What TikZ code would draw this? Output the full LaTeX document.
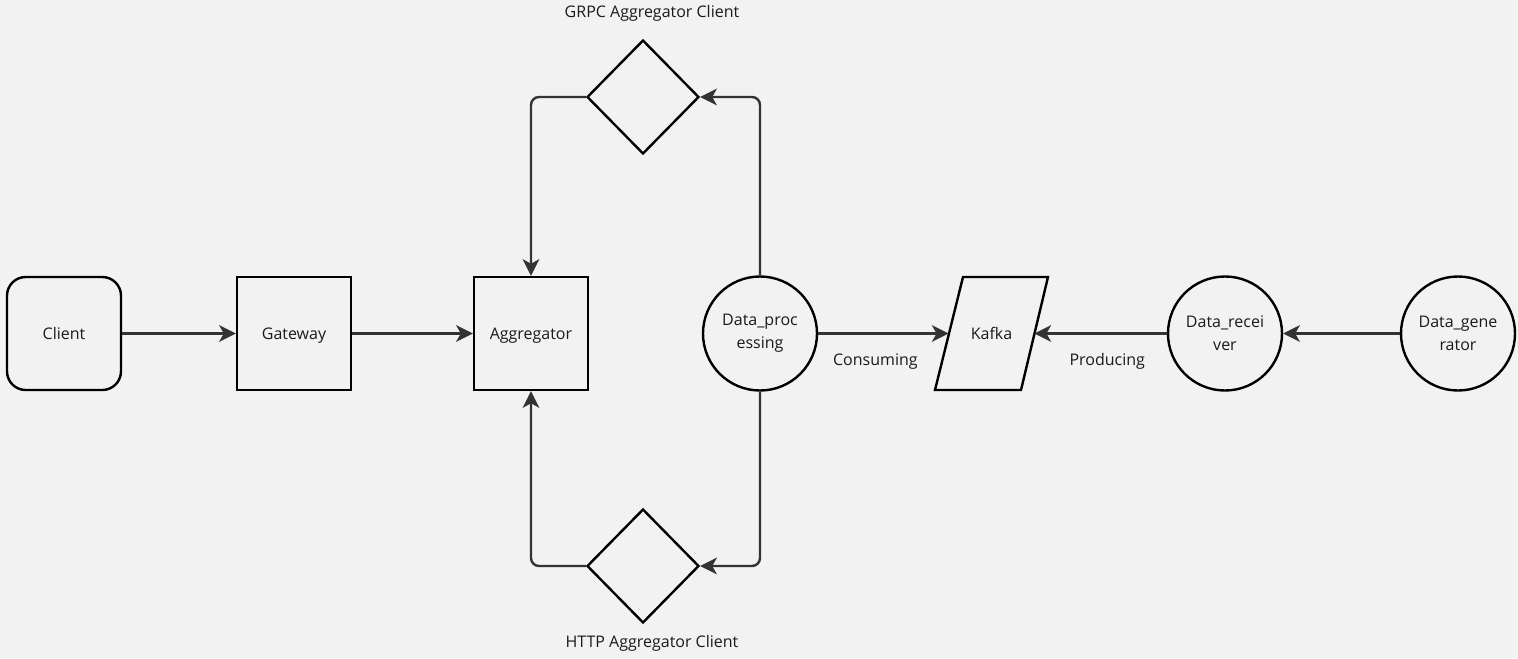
\documentclass[tikz,border=0pt]{standalone}
\usepackage{fontspec}
\setmainfont{Open Sans}
\usetikzlibrary{arrows.meta,shapes.geometric}
\definecolor{bg}{HTML}{F2F2F2}
\definecolor{edge}{HTML}{333333}
\definecolor{txt}{HTML}{1A1A1A}
\begin{document}
\begin{tikzpicture}[x=0.75pt,y=-0.75pt,
  every node/.style={font=\fontsize{12}{17}\selectfont,text=txt},
  box/.style={draw=black,line width=1.8pt,minimum width=85.5pt,minimum height=84.75pt,inner sep=0pt,text height=8.6pt,text depth=0pt},
  rbox/.style={box,rounded corners=14pt},
  circ/.style={draw=black,line width=1.8pt,circle,minimum size=85.5pt,inner sep=0pt,align=center},
  dia/.style={draw=black,line width=1.8pt,diamond,aspect=1,minimum width=84pt,minimum height=85.5pt,inner sep=0pt},
  conn/.style={draw=edge,line width=1.8pt,-{Stealth[length=12.5pt,width=12.5pt,inset=3.5pt]},rounded corners=6pt},
  lbl/.style={inner sep=0pt}
]
\fill[bg] (0,0) rectangle (1518,658);
\useasboundingbox (0,0) rectangle (1518,658);

\node[rbox] (client) at (64,333.5) {Client};
\node[box] (gateway) at (294,333.5) {Gateway};
\node[box] (aggr) at (531,333.5) {Aggregator};
\node[circ] (proc) at (760,333.5) {Data\_proc\\essing};
\draw[black,line width=1.8pt,line join=miter] (963,277) -- (1048,277) -- (1021,390) -- (935,390) -- cycle;
\node[minimum width=64pt,minimum height=84.75pt,inner sep=0pt,text height=8.6pt,text depth=0pt] (kafka) at (991.5,333.5) {Kafka};
\node[circ] (recv) at (1225,333.5) {Data\_recei\\ver};
\node[circ] (gen) at (1458,333.5) {Data\_gene\\rator};
\node[dia] (grpc) at (643,97) {};
\node[dia] (http) at (643,566) {};
\node[lbl] (grpcl) at (652,13) {GRPC Aggregator Client};
\node[lbl] (httpl) at (652,643) {HTTP Aggregator Client};

\draw[conn] (client) -- (gateway);
\draw[conn] (gateway) -- (aggr);
\draw[conn] (proc) -- node[below=14pt,lbl,xshift=-6pt] (cons) {Consuming} (kafka.west);
\draw[conn] (recv) -- node[below=14pt,lbl,xshift=5pt] (prod) {Producing} (kafka.east);
\draw[conn] (gen) -- (recv);
\draw[conn] (proc.north) -- (proc.north |- grpc.east) -- (grpc.east);
\draw[conn] (grpc.west) -- (aggr.north |- grpc.west) -- (aggr.north);
\draw[conn] (proc.south) -- (proc.south |- http.east) -- (http.east);
\draw[conn] (http.west) -- (aggr.south |- http.west) -- (aggr.south);
\end{tikzpicture}
\end{document}
